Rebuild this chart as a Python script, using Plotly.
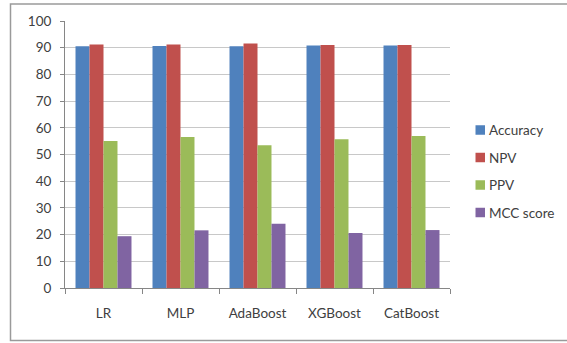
import plotly.graph_objects as go

# Classifier comparison: four metrics per model (in %)
models = ["LR", "MLP", "AdaBoost", "XGBoost", "CatBoost"]
accuracy = [90.5, 90.6, 90.5, 90.8, 90.8]
npv = [91.2, 91.2, 91.6, 91.0, 91.0]
ppv = [55.1, 56.6, 53.5, 55.7, 56.9]
mcc = [19.4, 21.6, 24.1, 20.6, 21.7]

series = [
    ("Accuracy", accuracy, "#4F81BD"),
    ("NPV", npv, "#C0504D"),
    ("PPV", ppv, "#9BBB59"),
    ("MCC score", mcc, "#8064A2"),
]

W, H = 567, 343
ML, MR, MT, MB = 65, 117, 21, 55
plot_w = W - ML - MR
plot_h = H - MT - MB

fig = go.Figure()
for name, vals, color in series:
    fig.add_trace(go.Bar(
        x=models, y=vals, name=name,
        marker=dict(color=color, line=dict(width=0)),
        showlegend=False,
    ))

font_family = "Lato, 'Open Sans', sans-serif"
text_color = "#404040"


# pixel positions converted to paper units
def px_x(p):
    return (p - ML) / plot_w


def px_y(p):
    return (H - MB - p) / plot_h


# outer chart frame
fig.add_shape(
    type="rect", xref="paper", yref="paper",
    x0=px_x(10.5), x1=px_x(600), y0=px_y(340.5), y1=px_y(4),
    line=dict(color="#9a9a9a", width=1.5), fillcolor="rgba(0,0,0,0)",
    layer="below",
)

# legend: small square swatch followed by the series name
leg_x, leg_y0, leg_step, sw = 475.5, 130, 27.5, 9.5
for i, (name, _, color) in enumerate(series):
    cy = leg_y0 + i * leg_step
    fig.add_shape(
        type="rect", xref="paper", yref="paper",
        x0=px_x(leg_x), x1=px_x(leg_x + sw),
        y0=px_y(cy + sw / 2), y1=px_y(cy - sw / 2),
        line=dict(width=0), fillcolor=color,
    )
    fig.add_annotation(
        xref="paper", yref="paper",
        x=px_x(leg_x + sw + 1.5), y=px_y(cy),
        xanchor="left", yanchor="middle",
        text=name, showarrow=False,
        font=dict(family=font_family, size=13.5, color=text_color),
    )

fig.update_layout(
    width=W, height=H,
    margin=dict(l=ML, r=MR, t=MT, b=MB),
    paper_bgcolor="white", plot_bgcolor="white",
    barmode="group", bargap=0.273, bargroupgap=0,
    font=dict(family=font_family, size=13, color=text_color),
    showlegend=False,
    xaxis=dict(
        type="category", showgrid=False, showline=True,
        linecolor="#868686", linewidth=1,
        ticks="outside", ticklen=5, tickcolor="#868686",
        tickson="boundaries", ticklabelstandoff=13,
        tickfont=dict(size=13.5, color=text_color),
    ),
    yaxis=dict(
        range=[0, 100], dtick=10, showgrid=True,
        gridcolor="#c8c8c8", gridwidth=1,
        showline=True, linecolor="#868686", linewidth=1,
        ticks="outside", ticklen=4, tickcolor="#868686",
        zeroline=False, ticklabelstandoff=6,
        tickfont=dict(size=13.5, color=text_color),
    ),
)

fig.write_html("out.html")
